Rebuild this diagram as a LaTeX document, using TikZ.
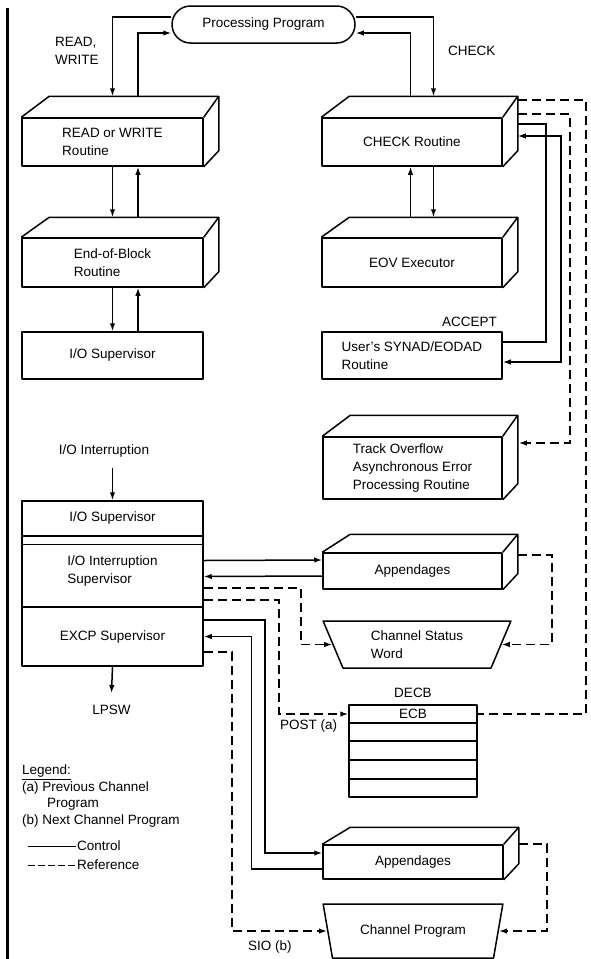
\documentclass[tikz,border=0pt]{standalone}
\usepackage{fontspec}
\setmainfont{Liberation Sans}
\usetikzlibrary{arrows.meta,shapes.misc,shapes.geometric,calc}

% top and right faces of a block drawn in perspective
\newcommand{\boxfaces}[2]{%
  \draw[outline] (#1.north west) -- ++(28,-#2) -- ([shift={(15,-#2)}]#1.north east)
    -- ([shift={(15,-16)}]#1.south east) -- (#1.south east)
    (#1.north east) -- ++(15,-#2);
}

\begin{document}
\begin{tikzpicture}[x=1pt, y=-1pt,
  every node/.style={font=\fontsize{13.5}{18}\selectfont, inner sep=2pt},
  >={Latex[length=8pt,width=5.5pt]},
  outline/.style={line width=1.5pt, line join=round},
  wire/.style={line width=1.5pt},
  refline/.style={line width=1.5pt, dash pattern=on 9pt off 5pt},
  block/.style={draw, outline, minimum width=181pt, align=left},
  tray/.style={draw, outline, trapezium, shape border rotate=180,
    trapezium stretches=true, align=left}]
  \useasboundingbox (0,0) rectangle (590,959);
  \draw[line width=3pt] (7,8) -- (7,959);

  \node [draw,outline,rounded rectangle,minimum width=187pt,minimum height=37pt] (pp) at (263.5,24.5) {Processing Program};

  % left column
  \node [block,minimum height=48pt] (rw) at (112.5,142) {READ or WRITE\\Routine};
  \node [block,minimum height=49pt] (eob) at (112.5,262.5) {End-of-Block\\Routine};
  \node [block,minimum height=47pt] (ios) at (112.5,355.5) {I/O Supervisor};
  \boxfaces{rw}{21}
  \boxfaces{eob}{20}

  % right column
  \node [block,minimum width=180pt,minimum height=48pt] (chk) at (412,142) {CHECK Routine};
  \node [block,minimum width=180pt,minimum height=49pt] (eov) at (412,262.5) {EOV Executor};
  \node [block,minimum width=180pt,minimum height=47pt] (synad) at (412,355.5) {User's SYNAD/EODAD\\Routine};
  \node [block,minimum width=179pt,minimum height=62pt] (tov) at (412.5,468) {Track Overflow\\Asynchronous Error\\Processing Routine};
  \boxfaces{chk}{21}
  \boxfaces{eov}{20}
  \boxfaces{tov}{21}

  % supervisor stack
  \node [block,minimum height=35pt] (iosup) at (112.5,518.5) {I/O Supervisor};
  \node [block,minimum height=71pt] (iisup) at (112.5,571.5) {I/O Interruption\\Supervisor};
  \node [block,minimum height=59pt] (excp) at (112.5,636.5) {EXCP Supervisor};
  \draw[outline] ([yshift=-9pt]iisup.north west) -- ([yshift=-9pt]iisup.north east);

  % lower right
  \node [block,minimum width=179pt,minimum height=36pt] (app1) at (412.5,571) {Appendages};
  \node [tray,trapezium angle=68,minimum width=188pt,minimum height=47pt] (csw) at (417,644.5) {Channel Status\\Word};
  \node (decblab) at (413,693) {DECB};
  \node [draw,outline,minimum width=128pt,minimum height=18pt] (ecb) at (413,714) {ECB};
  \node [draw,outline,minimum width=128pt,minimum height=74pt] (decb) at (413,760) {};
  \foreach \k in {1,2,3}
    \draw[outline] ($(decb.north west)!\k/4!(decb.south west)$) -- ($(decb.north east)!\k/4!(decb.south east)$);
  \node [block,minimum width=180pt,minimum height=34pt] (app2) at (413,862) {Appendages};
  \node [tray,trapezium angle=69,minimum width=180pt,minimum height=54pt] (chp) at (413,931) {Channel Program};
  \boxfaces{app1}{18}
  \boxfaces{app2}{17}

  % labels
  \node [anchor=west,align=left] (rwlab) at (53,51) {READ,\\WRITE};
  \node [anchor=west] (chklab) at (446,51) {CHECK};
  \node [anchor=east] (acc) at (499,322) {ACCEPT};
  \node (intr) at (104,451) {I/O Interruption};
  \coordinate (intrtip) at (112.5,468);
  \node (lpsw) at (111.5,710) {LPSW};
  \node [anchor=west] (post) at (278,726) {POST (a)};
  \node [anchor=west] (sio) at (246,947) {SIO (b)};

  % legend
  \node [anchor=north west,align=left,font=\fontsize{13.5}{16.5}\selectfont] (legend) at (20,763)
    {\underline{Legend:}\\(a) Previous Channel\\\hspace*{25pt}Program\\(b) Next Channel Program};
  \node [anchor=west,inner sep=1pt] (ctl) at (76,846) {Control};
  \node [anchor=west,inner sep=1pt] (refl) at (76,865) {Reference};
  \coordinate (ctlfrom) at (28,846);
  \coordinate (reffrom) at (28,865);
  \draw[line width=1pt] (ctlfrom) -- (ctl.west);
  \draw[line width=1pt,dash pattern=on 7pt off 3pt] (reffrom) -- (refl.west);

  % processing program
  \draw[wire,->] ([yshift=7.5pt]pp.west) -| ([yshift=21pt]rw.north);
  \draw[wire,->] ([xshift=25.5pt,yshift=21pt]rw.north) |- ([yshift=-8.5pt]pp.west);
  \draw[wire,->] ([yshift=7.5pt]pp.east) -| ([xshift=21.5pt,yshift=21pt]chk.north);
  \draw[wire,->] ([xshift=-1.5pt,yshift=21pt]chk.north) |- ([yshift=-8.5pt]pp.east);

  % left column
  \draw[wire,->] (rw.south) -- ([yshift=20pt]eob.north);
  \draw[wire,->] ([xshift=25.5pt,yshift=20pt]eob.north) -- ([xshift=25.5pt]rw.south);
  \draw[wire,->] (eob.south) -- (ios.north);
  \draw[wire,->] ([xshift=25.5pt]ios.north) -- ([xshift=25.5pt]eob.south);

  % right column
  \draw[wire,->] ([xshift=-1.5pt,yshift=20pt]eov.north) -- ([xshift=-1.5pt]chk.south);
  \draw[wire,->] ([xshift=21.5pt]chk.south) -- ([xshift=21.5pt,yshift=20pt]eov.north);
  \draw[wire] ([xshift=15pt,yshift=18pt]chk.east) -- ++(28,0) |- ([yshift=13.5pt]synad.east);
  \draw[wire,<->] ([yshift=-6.5pt]synad.east) -- ++(58,0) |- ([xshift=15pt,yshift=6pt]chk.east);
  \draw[refline] ([xshift=15pt,yshift=42pt]chk.east) -- ++(68,0) |- (ecb.east);
  \draw[refline,->] ([xshift=15pt,yshift=28pt]chk.east) -- ++(52,0) |- ([xshift=16pt,yshift=25pt]tov.east);

  % supervisors
  \draw[wire,->] (intrtip) -- (iosup.north);
  \draw[wire,->] (excp.south) -- ([yshift=10pt]lpsw.north);
  \draw[wire,->] ([yshift=11pt]iisup.east) -- ([yshift=11pt]app1.west);
  \draw[wire,->] ([yshift=-5pt]app1.west) -- ([yshift=-5pt]iisup.east);
  \draw[refline,->] ([yshift=-16.5pt]iisup.east) -- ++(97,0) |- (csw.west);
  \draw[refline,->] ([yshift=-28.5pt]iisup.east) -- ++(75,0) |- (ecb.west);
  \draw[refline,->] ([xshift=15pt,yshift=16pt]app1.east) -- ++(34,0) |- (csw.east);
  \draw[wire,->] ([yshift=16.5pt]excp.east) -- ++(61,0) |- ([yshift=9pt]app2.west);
  \draw[wire,->] ([yshift=-7pt]app2.west) -- ++(-71,0) |- (excp.east);
  \draw[refline,->] ([yshift=-15.5pt]excp.east) -- ++(28,0) |- (chp.west);
  \draw[refline,->] ([xshift=15pt,yshift=18pt]app2.east) -- ++(28,0) |- (chp.east);
\end{tikzpicture}
\end{document}
